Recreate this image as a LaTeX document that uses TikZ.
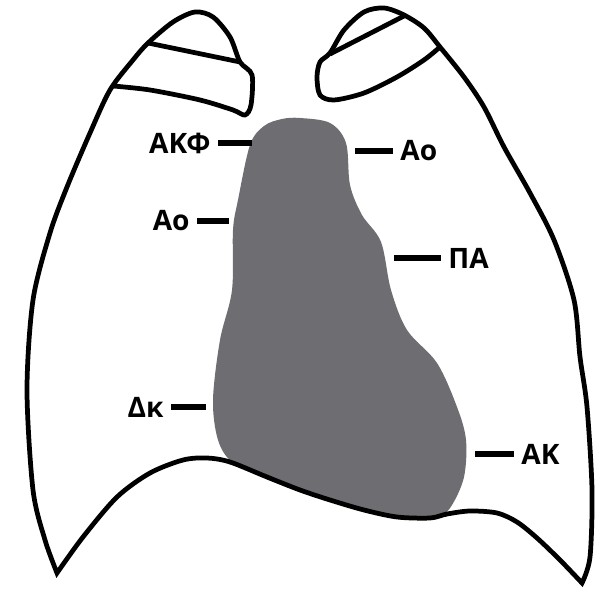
\documentclass[tikz,border=0pt]{standalone}
\usepackage{fontspec}
\setmainfont{Open Sans}
\definecolor{heart}{RGB}{109,109,114}

\begin{document}
\begin{tikzpicture}[x=.02cm,y=-.02cm]
  \tikzset{outline/.style={line width=2.7pt,line join=miter,miter limit=25},
    tick/.style={line width=3pt},
    organ/.style={font=\fontsize{16}{19}\selectfont\bfseries,inner sep=4pt}}
  \useasboundingbox (0,0) rectangle (597,590);

  % heart shadow
  \fill[heart] plot[smooth cycle,tension=.55] coordinates {(300,118) (330,123) (346,143) (350,185)
    (362,215) (381,242) (391,290) (407,330) (437,363) (457,407) (466,440) (464,477) (452,505)
    (440,516) (414,519) (364,509) (300,489) (260,474) (232,462) (218,440) (213,400) (220,340)
    (232,290) (233,230) (238,200) (250,145) (264,126) (282,119)};

  % lungs, the left clavicle first and the right one last
  \draw[outline] plot[smooth,tension=.5] coordinates {(113,86) (150,90) (200,100) (233,110) (245,115)
      (251,105) (252,75) (240,62) (230,37) (213,17) (195,12) (173,22) (148,43) (133,60) (110,90)
      (90,133) (67,187) (50,233) (33,300) (27,390) (33,490) (45,540) (57,573)}
    -- plot[smooth,tension=.5] coordinates {(57,573) (83,537) (117,497) (150,473) (183,460) (207,458)
      (230,462) (267,477) (300,490) (330,500) (364,510) (397,517) (430,518) (447,514) (470,511)
      (497,513) (517,522) (537,538) (560,560) (582,583)}
    -- plot[smooth,tension=.5] coordinates {(582,583) (590,557) (592,490) (587,407) (580,357)
      (574,300) (554,240) (530,193) (504,147) (484,107) (464,77) (440,47) (424,28) (404,15)
      (384,8) (364,12) (344,30) (330,53) (320,62) (317,77) (320,95) (334,100) (364,93) (397,77)
      (424,60) (440,47)};
  \draw[outline] (148,43) -- (240,62);
  \draw[outline] (330,54) -- (404,16);

  % labels on the left and on the right
  \foreach \n/\t/\x/\y/\e in {akf/ΑΚΦ/218/143/252, aol/Αο/197/221/229, dk/Δκ/171/407/206} {
    \node[organ,anchor=east] (\n) at (\x,\y) {\t};
    \coordinate (\n-tip) at (\e,\y);
    \draw[tick] (\n) -- (\n-tip);
  }
  \foreach \n/\t/\x/\y/\e in {aor/Αο/393/151/355, pa/ΠΑ/441/258/394, ak/ΑΚ/514/454/475} {
    \node[organ,anchor=west] (\n) at (\x,\y) {\t};
    \coordinate (\n-tip) at (\e,\y);
    \draw[tick] (\n-tip) -- (\n);
  }
\end{tikzpicture}
\end{document}
